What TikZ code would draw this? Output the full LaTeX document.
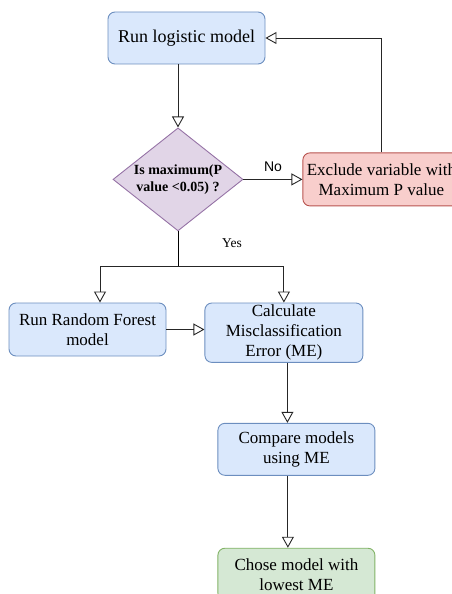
\documentclass[tikz,border=0pt]{standalone}
\usepackage{fontspec}
\setmainfont{Liberation Serif}
\setsansfont{Liberation Sans}
\usepackage{tikz}
\usetikzlibrary{shapes.geometric, arrows.meta, positioning, calc}
\definecolor{boxblue}{HTML}{DAE8FC}
\definecolor{lineblue}{HTML}{6C8EBF}
\definecolor{boxred}{HTML}{F8CECC}
\definecolor{linered}{HTML}{B85450}
\definecolor{boxpurple}{HTML}{E1D5E7}
\definecolor{linepurple}{HTML}{9673A6}
\definecolor{boxgreen}{HTML}{D5E8D4}
\definecolor{linegreen}{HTML}{82B366}
\tikzstyle{procbox} = [rectangle, rounded corners=7pt,
fill=boxblue, draw=lineblue, line width=0.9pt,
minimum width=157pt, minimum height=52pt, inner sep=2pt,
align=center, font=\fontsize{17}{20}\selectfont]
\tikzstyle{decision} = [diamond, aspect=1.26,
fill=boxpurple, draw=linepurple, line width=0.9pt,
minimum width=130pt, minimum height=103pt, inner sep=0pt,
align=center, font=\fontsize{14}{17}\selectfont\bfseries]
\tikzstyle{arrow} = [-{Triangle[open, length=11pt, width=12pt]}, line width=0.9pt, draw=black!85]

\begin{document}
\begin{tikzpicture}[x=1pt, y=1pt]
    \useasboundingbox (0,0) rectangle (451,-594);
    \node (logit) [procbox, font=\fontsize{18}{20}\selectfont] at (186.5,-38) {Run logistic model};
    \node (maxp) [decision, below=63pt of logit, xshift=-8.5pt] {Is maximum(P\\value <0.05) ?};
    \node (excl) [procbox, fill=boxred, draw=linered, minimum height=53pt, right=59pt of maxp]
    {Exclude variable with\\Maximum P value};
    \node (rf) [procbox, minimum height=53pt] at (87.5,-329.5) {Run Random Forest\\model};
    \node (calc) [procbox, minimum width=158pt, minimum height=58pt,
    right=38pt of rf.north east, anchor=north west]
    {Calculate\\Misclassification\\Error (ME)};
    \node (cmp) [procbox, below=60pt of calc, xshift=12.5pt] {Compare models\\using ME};
    \node (chose) [procbox, fill=boxgreen, draw=linegreen, below=72pt of cmp]
    {Chose model with\\lowest ME};

    \coordinate (split) at ($(maxp.south)+(0,-35pt)$);

    \draw[arrow] (logit.south -| maxp) -- (maxp.north);
    \draw[arrow] (maxp) -- node[above=4pt, font=\sffamily\fontsize{14}{16}\selectfont] {No} (excl);
    \draw[arrow] (excl.north) |- (logit.east);
    \draw (maxp.south) -- node[pos=0.33, xshift=54pt, font=\fontsize{13.5}{16}\selectfont] {Yes} (split);
    \draw[arrow] (split) -| ([xshift=12.5pt]rf.north);
    \draw[arrow] (split) -| (calc.north);
    \draw[arrow] (rf.east) -- (rf.east -| calc.west);
    \draw[arrow] ([xshift=3.5pt]calc.south) -- ([xshift=3.5pt]calc.south |- cmp.north);
    \draw[arrow] ([xshift=-8.5pt]cmp.south) -- ([xshift=-8.5pt]chose.north);
        \end{tikzpicture}
\end{document}
